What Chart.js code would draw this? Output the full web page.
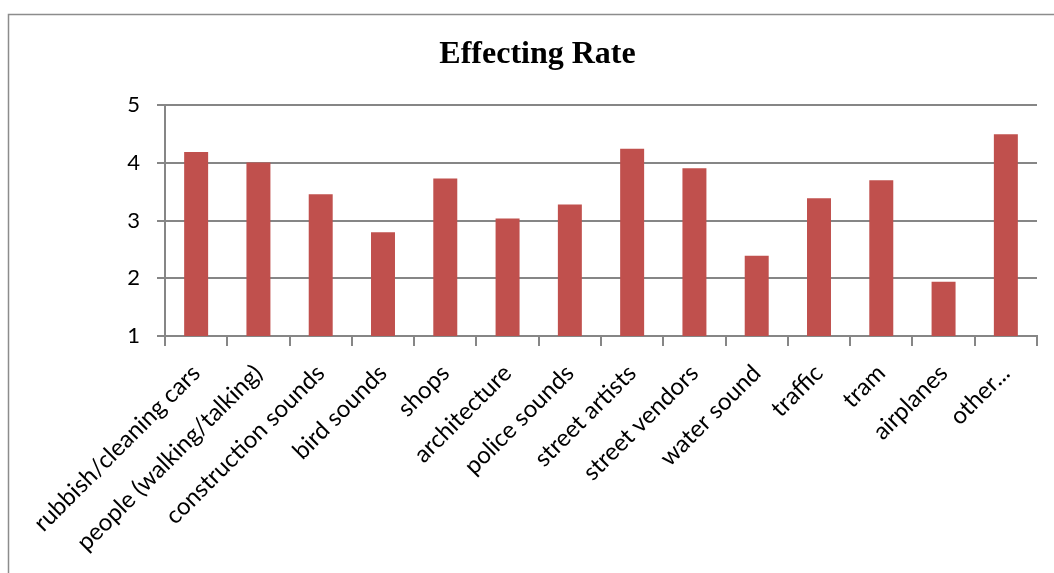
<!DOCTYPE html>
<html>
<head>
<meta charset="utf-8">
<style>
  html, body { margin: 0; padding: 0; background: #fff; }
  #wrap { position: relative; width: 1054px; height: 573px; }
</style>
<script src="https://cdn.jsdelivr.net/npm/chart.js@4/dist/chart.umd.min.js"></script>
</head>
<body>
<div id="wrap"><canvas id="chart"></canvas></div>
<script>
// Rating of each sound / scene element
const categories = [
  'rubbish/cleaning cars', 'people (walking/talking)', 'construction sounds',
  'bird sounds', 'shops', 'architecture', 'police sounds', 'street artists',
  'street vendors', 'water sound', 'traffic', 'tram', 'airplanes', 'other...'
];
const rates = [4.19, 4.01, 3.46, 2.8, 3.73, 3.04, 3.28, 4.25, 3.91, 2.39, 3.39, 3.7, 1.94, 4.5];
const yTicks = [1, 2, 3, 4, 5];

const GRAY = '#868686';

// Thin frame around the chart area (top and left edges visible)
const framePlugin = {
  id: 'frame',
  beforeDraw(chart) {
    const ctx = chart.ctx;
    ctx.save();
    ctx.strokeStyle = '#8c8c8c';
    ctx.lineWidth = 1.5;
    ctx.beginPath();
    ctx.moveTo(8.5, chart.height + 5);
    ctx.lineTo(8.5, 14.5);
    ctx.lineTo(chart.width + 5, 14.5);
    ctx.stroke();
    ctx.restore();
  }
};

Chart.defaults.font.family = 'Lato, "Open Sans", sans-serif';
Chart.defaults.color = '#000';

new Chart(document.getElementById('chart'), {
  type: 'bar',
  data: {
    labels: categories,
    datasets: [{
      label: 'Effecting Rate',
      data: rates,
      backgroundColor: '#C0504D',
      borderWidth: 0,
      categoryPercentage: 1,
      barPercentage: 0.385
    }]
  },
  options: {
    responsive: true,
    maintainAspectRatio: false,
    animation: false,
    devicePixelRatio: 1,
    layout: { padding: { left: 38, right: 17, top: 0, bottom: 0 } },
    plugins: {
      legend: { display: false },
      tooltip: { enabled: false },
      title: {
        display: true,
        text: 'Effecting Rate',
        color: '#000',
        font: { family: '"Liberation Serif", "Times New Roman", serif', size: 32, weight: 'bold', lineHeight: 1.2 },
        padding: { top: 36, bottom: 31 }
      }
    },
    scales: {
      x: {
        offset: true,
        grid: {
          display: true,
          offset: true,
          drawOnChartArea: false,
          drawTicks: true,
          tickLength: 10,
          color: GRAY,
          lineWidth: 2
        },
        border: { display: true, color: GRAY, width: 2 },
        ticks: {
          autoSkip: false,
          maxRotation: 45,
          minRotation: 45,
          padding: 13,
          font: { size: 24 },
          color: '#000'
        },
        afterFit(scale) { scale.height = 237; }
      },
      y: {
        min: 1,
        max: 5,
        afterBuildTicks(scale) { scale.ticks = yTicks.map(v => ({ value: v })); },
        grid: {
          color: GRAY,
          lineWidth: 2,
          drawTicks: true,
          tickLength: 8
        },
        border: { display: true, color: GRAY, width: 2 },
        ticks: {
          padding: 17,
          font: { size: 22 },
          color: '#000'
        },
        afterFit(scale) { scale.width = 127; }
      }
    }
  },
  plugins: [framePlugin]
});
</script>
</body>
</html>
